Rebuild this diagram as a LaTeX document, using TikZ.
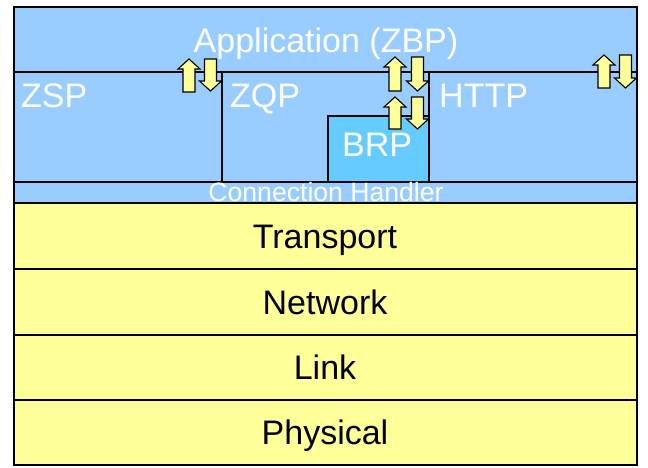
\documentclass[tikz,border=0pt]{standalone}
\usepackage{fontspec}
\setmainfont{Liberation Sans}
\definecolor{appblue}{HTML}{99CCFF}
\definecolor{brpblue}{HTML}{66CCFF}
\definecolor{stackyellow}{HTML}{FFFF99}
\tikzset{
  layerline/.style={draw=black, line width=1.4pt},
  bigwhite/.style={text=white, inner sep=0pt, font=\fontsize{34}{40}\selectfont},
  bigblack/.style={text=black, inner sep=0pt, anchor=base, font=\fontsize{34}{40}\selectfont},
  smallwhite/.style={text=white, inner sep=0pt, anchor=base, font=\fontsize{26.6}{30}\selectfont},
  flowarrow/.style={fill=stackyellow, draw=black, line width=1.1pt, line join=miter},
  pics/uparrow/.style={code={
    \path[flowarrow] (0,0) -- (11,10) -- (6,10) -- (6,#1) -- (-6,#1) -- (-6,10) -- (-11,10) -- cycle;}},
  pics/downarrow/.style={code={
    \path[flowarrow] (-6,0) -- (6,0) -- (6,#1-10) -- (11,#1-10) -- (0,#1) -- (-11,#1-10) -- (-6,#1-10) -- cycle;}}
}
\begin{document}
\begin{tikzpicture}[x=1pt, y=-1pt]
\useasboundingbox (0,0) rectangle (648,468);

% upper (blue) part of the stack
\path[fill=appblue] (14,7) rectangle (637,203);
\path[fill=brpblue] (328,116) rectangle (429,182);
% lower (yellow) layers
\path[fill=stackyellow] (14,203) rectangle (637,465);

% layer borders
\draw[layerline] (14,7) rectangle (637,465);
\draw[layerline] (14,72) -- (637,72);
\draw[layerline] (14,182) -- (637,182);
\draw[layerline] (14,203) -- (637,203);
\draw[layerline] (14,269) -- (637,269);
\draw[layerline] (14,335) -- (637,335);
\draw[layerline] (14,400) -- (637,400);
\draw[layerline] (222,72) -- (222,182);
\draw[layerline] (429,72) -- (429,182);
\draw[layerline] (328,182) -- (328,116) -- (429,116);

% up/down interface arrows
\pic at (189,59) {uparrow=33};
\pic at (210.5,59) {downarrow=32};
\pic at (395,57) {uparrow=34};
\pic at (417.5,57) {downarrow=34};
\pic at (395,97) {uparrow=32};
\pic at (417.5,97) {downarrow=32};
\pic at (604,55) {uparrow=33};
\pic at (625.5,55) {downarrow=33};

% labels
\node[bigwhite, anchor=base] (app) at (326,53) {Application (ZBP)};
\node[bigwhite, anchor=base west] (zsp) at (21,108) {ZSP};
\node[bigwhite, anchor=base west] (zqp) at (230,108) {ZQP};
\node[bigwhite, anchor=base west] (http) at (439,108) {HTTP};
\node[bigwhite, anchor=base west] (brp) at (342,157) {BRP};
\node[smallwhite] (conn) at (326,201.5) {Connection Handler};
\node[bigblack] (transport) at (325,248) {Transport};
\node[bigblack] (network) at (325,314) {Network};
\node[bigblack] (link) at (325,379.5) {Link};
\node[bigblack] (physical) at (325,444.5) {Physical};
\end{tikzpicture}
\end{document}
